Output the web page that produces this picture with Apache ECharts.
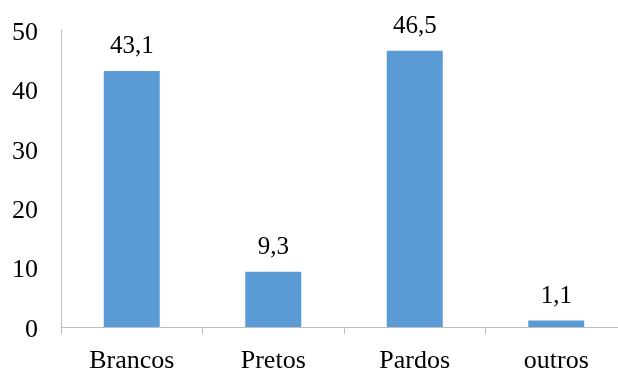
<!DOCTYPE html>
<html>
<head>
<meta charset="utf-8">
<script src="https://cdn.jsdelivr.net/npm/echarts@6/dist/echarts.min.js"></script>
<style>
  html, body { margin: 0; padding: 0; background: #fff; overflow: hidden; width: 618px; height: 374px; }
  /* the plot runs slightly past the right edge of the visible area */
  #chart { width: 627px; height: 374px; }
</style>
</head>
<body>
<div id="chart"></div>
<script>
const categories = ['Brancos', 'Pretos', 'Pardos', 'outros'];
const values = [43.1, 9.3, 46.5, 1.1];
const yTicks = { min: 0, max: 50, interval: 10 };

const serif = '"Liberation Serif", "Times New Roman", serif';
const chart = echarts.init(document.getElementById('chart'), null, { renderer: 'canvas' });

chart.setOption({
  animation: false,
  grid: { left: 61, top: 30, bottom: 45, right: 0, containLabel: false },
  xAxis: {
    type: 'category',
    data: categories,
    axisLine: { show: true, lineStyle: { color: '#BFBFBF', width: 1 } },
    axisTick: { show: true, length: 7, alignWithLabel: false, lineStyle: { color: '#BFBFBF' } },
    axisLabel: { color: '#000', fontFamily: serif, fontSize: 26, margin: 21 }
  },
  yAxis: {
    type: 'value',
    min: yTicks.min,
    max: yTicks.max,
    interval: yTicks.interval,
    axisLine: { show: true, lineStyle: { color: '#BFBFBF', width: 1 } },
    axisTick: { show: false },
    splitLine: { show: false },
    // labels sit a few pixels below their tick value
    axisLabel: { color: '#000', fontFamily: serif, fontSize: 26, margin: 23, verticalAlign: 'top', lineHeight: 6 }
  },
  series: [{
    type: 'bar',
    data: values,
    barWidth: 56,
    itemStyle: { color: '#5B9BD5' },
    label: {
      show: true,
      position: 'top',
      distance: 12,
      color: '#000',
      fontFamily: serif,
      fontSize: 25,
      formatter: p => String(p.value).replace('.', ',')
    }
  }]
});
</script>
</body>
</html>
